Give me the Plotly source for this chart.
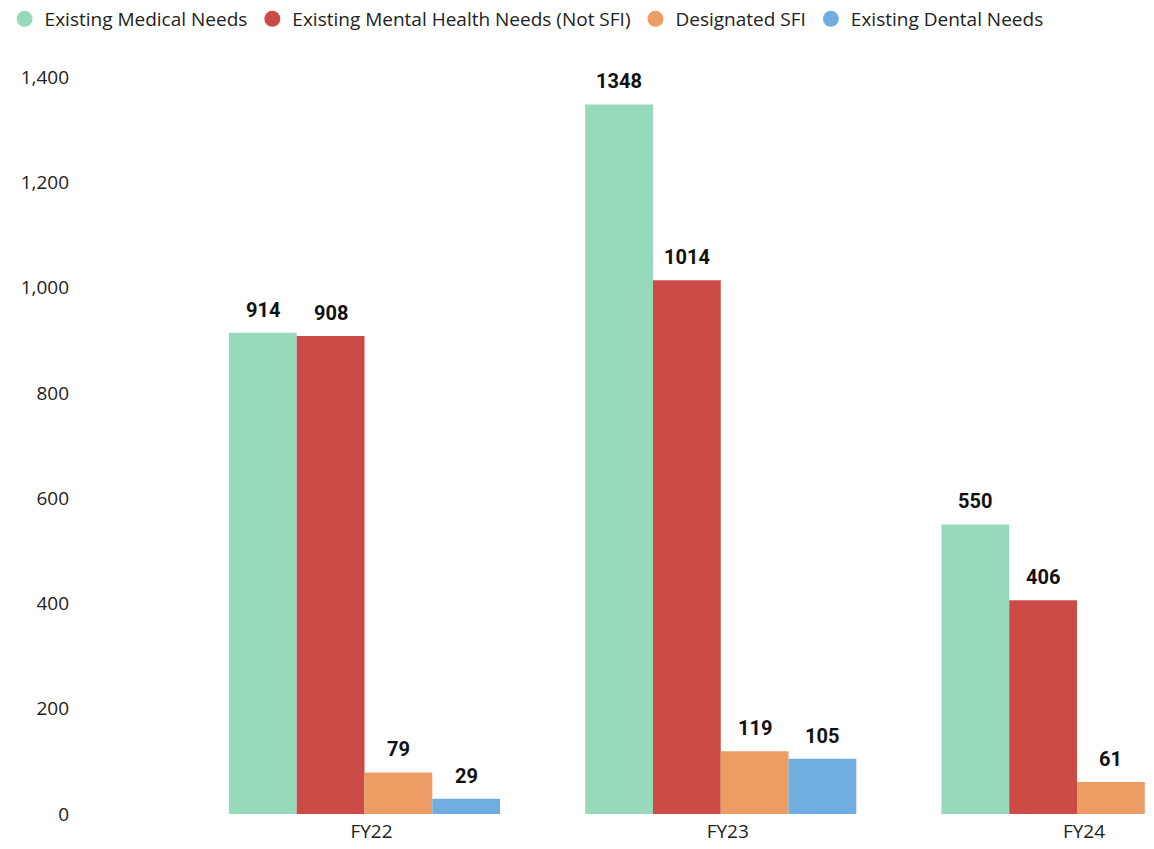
import plotly.graph_objects as go

categories = ["FY22", "FY23", "FY24"]
series_names = ["Existing Medical Needs", "Existing Mental Health Needs (Not SFI)",
                "Designated SFI", "Existing Dental Needs"]
medical = [914, 1348, 550]
mental = [908, 1014, 406]
sfi = [79, 119, 61]
dental = [29, 105, None]
colors = ["#96DABB", "#CC4B46", "#ED9C64", "#71AEE0"]

series_values = [medical, mental, sfi, dental]
BARGAP = 0.239
n_series = len(series_values)
slot = (1 - BARGAP) / n_series

fig = go.Figure()
for name, vals, col in zip(series_names, series_values, colors):
    fig.add_trace(go.Bar(x=categories, y=vals, name=name, marker_color=col,
                         marker_line_width=0, showlegend=False, hoverinfo="skip"))
for name, col in zip(series_names, colors):
    fig.add_trace(go.Scatter(x=[None], y=[None], mode="markers", name=name,
                             marker=dict(symbol="circle", size=16, color=col)))

annotations = []
for j, vals in enumerate(series_values):
    for i, v in enumerate(vals):
        if v is None:
            continue
        annotations.append(dict(
            x=i + (j - (n_series - 1) / 2) * slot, y=v, xref="x", yref="y",
            text=str(v), showarrow=False, yanchor="middle", yshift=23,
            font=dict(family="Roboto", size=20, color="#111111", weight="bold")))

fig.update_layout(
    width=1154, height=849,
    barmode="group", bargap=BARGAP, bargroupgap=0,
    plot_bgcolor="white", paper_bgcolor="white",
    margin=dict(l=80, r=0, t=60, b=35, autoexpand=False),
    font=dict(family="Open Sans", size=19, color="#222222"),
    legend=dict(orientation="h", x=0.004, y=1, xref="container", yref="container",
                xanchor="left", yanchor="top", font=dict(size=19),
                itemwidth=30, tracegroupgap=0),
    annotations=annotations,
    xaxis=dict(type="category", range=[-0.7986, 2.2161], showgrid=False,
               showline=False, zeroline=False, ticks="", ticklabelshift=7,
               ticklabelstandoff=4, tickfont=dict(size=19), automargin=False),
    yaxis=dict(range=[0, 1432.3], showgrid=False, zeroline=False, showline=False,
               tickvals=[0, 200, 400, 600, 800, 1000, 1200, 1400],
               tickformat=",d", ticks="", ticklabelstandoff=10,
               tickfont=dict(size=19), automargin=False),
)

fig.write_html("out.html", config={"displayModeBar": False},
               post_script="document.body.style.margin='0';document.body.style.overflow='hidden';")
